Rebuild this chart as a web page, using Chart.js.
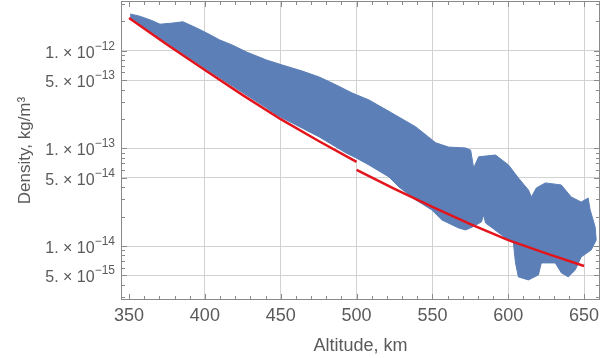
<!DOCTYPE html>
<html>
<head>
<meta charset="utf-8">
<script src="https://cdn.jsdelivr.net/npm/chart.js@4.4.0/dist/chart.umd.min.js"></script>
<style>
  html, body { margin: 0; padding: 0; background: #fff; }
  canvas { display: block; }
</style>
</head>
<body>
<canvas id="chart" width="602" height="358"></canvas>
<script>
// model curve (red), two pieces with a jump at 500 km
const modelLowAlt = [350, 375, 400, 425, 450, 475, 500];
const modelLowRho = [2.16e-12, 1.16e-12, 6.34e-13, 3.51e-13, 1.99e-13, 1.19e-13, 7.26e-14];
const modelHighAlt = [500, 525, 550, 575, 600, 625, 650];
const modelHighRho = [6.01e-14, 3.85e-14, 2.51e-14, 1.68e-14, 1.15e-14, 8.41e-15, 6.25e-15];

// measured cloud (blue) - upper and lower envelope
const upperAlt = [350.7, 357, 365, 370.4, 378.9, 385.5, 394.6, 401.2, 409.8, 418.3, 427.5, 440.6, 451.1,
  464.2, 475.4, 486.6, 497.1, 508.2, 523.3, 539.1, 552.2, 560.8, 571.9, 575.2, 577.2, 580.5, 591.6,
  600.2, 606.7, 613.3, 615.3, 618.5, 624.5, 635, 641.5, 648.1, 652.7, 654, 657.3, 658];
const upperRho = [2.38e-12, 2.26e-12, 2.04e-12, 1.87e-12, 1.92e-12, 1.98e-12, 1.71e-12, 1.52e-12, 1.29e-12,
  1.14e-12, 9.7e-13, 8.04e-13, 7.14e-13, 6.19e-13, 5.38e-13, 4.46e-13, 3.69e-13, 3.13e-13, 2.3e-13,
  1.66e-13, 1.14e-13, 1.03e-13, 1.01e-13, 9.6e-14, 6.3e-14, 8.2e-14, 8.55e-14, 6.76e-14, 4.98e-14,
  3.75e-14, 3.18e-14, 3.93e-14, 4.43e-14, 4.22e-14, 3.18e-14, 2.82e-14, 3.1e-14, 2.34e-14, 1.57e-14, 1.15e-14];
const lowerAlt = [350.7, 375, 400, 425, 440, 447.2, 460, 475.4, 493.1, 500, 508.2, 521.4, 527.9, 539.1,
  549.6, 556.2, 567.3, 571.9, 577, 582.4, 583.7, 585.1, 590, 598.2, 603.4, 604.8, 606.7, 613.3, 619.9,
  621.8, 631, 635, 639.6, 644.2, 648.1, 654.7, 658];
const lowerRho = [2.19e-12, 1.2e-12, 6.6e-13, 3.72e-13, 2.63e-13, 2.2e-13, 1.74e-13, 1.31e-13, 8.97e-14,
  7.94e-14, 6.76e-14, 5.09e-14, 4.03e-14, 2.96e-14, 2.34e-14, 1.85e-14, 1.53e-14, 1.46e-14, 1.58e-14,
  1.77e-14, 2.08e-14, 1.72e-14, 1.51e-14, 1.21e-14, 1.08e-14, 6.71e-15, 4.83e-15, 4.5e-15, 5.06e-15,
  6.71e-15, 6.71e-15, 5.31e-15, 4.83e-15, 5.69e-15, 7.73e-15, 9.12e-15, 1.15e-14];

// axes
const xTicks = [350, 400, 450, 500, 550, 600, 650];
const yTicks = [1e-12, 5e-13, 1e-13, 5e-14, 1e-14, 5e-15];
const yTickMant = ['1. × 10', '5. × 10', '1. × 10', '5. × 10', '1. × 10', '5. × 10'];
const yTickExp = ['−12', '−13', '−13', '−14', '−14', '−15'];

const pts = (xs, ys) => xs.map((v, i) => ({ x: v, y: ys[i] }));

const blue = '#5b7fb6';
const red = '#e3141b';
const textGray = '#5a5a5a';
const gridGray = '#d2d2d2';
const fontFam = 'Liberation Sans, Arial, sans-serif';

// Mathematica-style frame with inner ticks, and y labels with real superscripts
const frameTicks = {
  id: 'frameTicks',
  afterDatasetsDraw(chart) {
    const { ctx, chartArea: a, scales: { x, y } } = chart;
    ctx.save();
    ctx.strokeStyle = '#8a8a8a';
    ctx.lineWidth = 1;
    ctx.strokeRect(a.left + 0.5, a.top + 0.5, a.right - a.left - 1, a.bottom - a.top - 1);
    ctx.beginPath();
    for (let v = 350; v <= 660; v += 10) {
      const px = Math.round(x.getPixelForValue(v)) + 0.5;
      const len = v % 50 === 0 ? 6 : 4;
      ctx.moveTo(px, a.bottom); ctx.lineTo(px, a.bottom - len);
      ctx.moveTo(px, a.top); ctx.lineTo(px, a.top + len);
    }
    for (let e = -15; e <= -12; e++) {
      for (let m = 1; m <= 9; m++) {
        const v = m * Math.pow(10, e);
        if (v < y.min || v > y.max) continue;
        const py = Math.round(y.getPixelForValue(v)) + 0.5;
        const len = (m === 1 || m === 5) ? 6 : 4;
        ctx.moveTo(a.left, py); ctx.lineTo(a.left + len, py);
        ctx.moveTo(a.right, py); ctx.lineTo(a.right - len, py);
      }
    }
    ctx.stroke();

    ctx.fillStyle = textGray;
    ctx.textBaseline = 'alphabetic';
    ctx.textAlign = 'left';
    yTicks.forEach((v, i) => {
      const py = y.getPixelForValue(v);
      ctx.font = '12px ' + fontFam;
      const ew = ctx.measureText(yTickExp[i]).width;
      ctx.font = '16px ' + fontFam;
      const bw = ctx.measureText(yTickMant[i]).width;
      const right = a.left - 6;
      ctx.fillText(yTickMant[i], right - ew - bw, py + 7);
      ctx.font = '12px ' + fontFam;
      ctx.fillText(yTickExp[i], right - ew, py - 1);
    });
    ctx.restore();
  }
};

new Chart(document.getElementById('chart'), {
  type: 'line',
  data: {
    datasets: [
      { data: pts(modelLowAlt, modelLowRho), borderColor: red, borderWidth: 2.5, pointRadius: 0, fill: false },
      { data: pts(modelHighAlt, modelHighRho), borderColor: red, borderWidth: 2.5, pointRadius: 0, fill: false },
      { data: pts(lowerAlt, lowerRho), borderColor: blue, borderWidth: 1, pointRadius: 0, fill: false },
      { data: pts(upperAlt, upperRho), borderColor: blue, borderWidth: 1, pointRadius: 0,
        backgroundColor: blue, fill: '-1' }
    ]
  },
  options: {
    responsive: false,
    animation: false,
    devicePixelRatio: 1,
    layout: { padding: { top: 1, right: 2, left: 0, bottom: 0 } },
    plugins: { legend: { display: false }, tooltip: { enabled: false } },
    scales: {
      x: {
        type: 'linear',
        min: 344.7,
        max: 660.5,
        afterBuildTicks: (s) => { s.ticks = xTicks.map(v => ({ value: v })); },
        afterFit: (s) => { s.height = 58; s.paddingLeft = 0; s.paddingRight = 0; },
        border: { display: false },
        grid: {
          drawTicks: false,
          color: (c) => (c.tick && c.tick.value === 350) ? 'rgba(0,0,0,0)' : gridGray
        },
        ticks: {
          padding: 5,
          color: textGray,
          font: { family: fontFam, size: 18 },
          maxRotation: 0
        },
        title: {
          display: true,
          text: 'Altitude, km',
          color: textGray,
          padding: { top: 0, bottom: 1 },
          font: { family: fontFam, size: 18 }
        }
      },
      y: {
        type: 'logarithmic',
        min: 2.8e-15,
        max: 3.23e-12,
        afterBuildTicks: (s) => { s.ticks = yTicks.map(v => ({ value: v })); },
        afterFit: (s) => { s.width = 121; s.paddingTop = 0; s.paddingBottom = 0; },
        border: { display: false },
        grid: { drawTicks: false, color: gridGray },
        ticks: { display: false },
        title: {
          display: true,
          text: 'Density, kg/m³',
          color: textGray,
          padding: { top: 15, bottom: 0 },
          font: { family: fontFam, size: 17 }
        }
      }
    }
  },
  plugins: [frameTicks]
});
</script>
</body>
</html>
